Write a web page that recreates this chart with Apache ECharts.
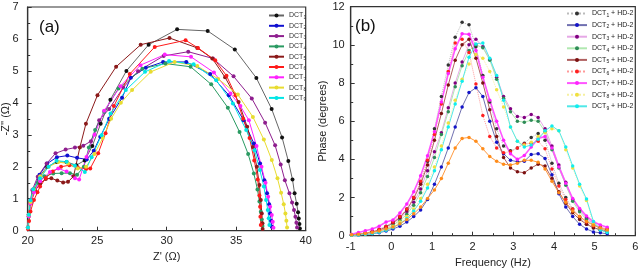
<!DOCTYPE html>
<html><head><meta charset="utf-8">
<script src="https://cdn.jsdelivr.net/npm/echarts@6/dist/echarts.min.js"></script>
<style>html,body{margin:0;padding:0;background:#fff}#c{width:640px;height:268px}</style>
</head><body><div id="c"></div>
<script>
// ---------- Panel (a): Nyquist data [Z', -Z''] ----------
const dct1 = [[20.02,0.1],[20.08,0.5],[20.2,0.9],[20.45,1.3],[20.85,1.7],[21.4,2.0],[22.1,2.15],[22.8,2.15],[23.5,2.05],[24.1,2.2],[24.65,2.65],[25.25,3.35],[25.95,4.1],[27.1,5.0],[28.7,5.82],[30.75,6.3],[32.95,6.25],[34.9,5.67],[36.45,4.78],[37.55,3.81],[38.3,2.92],[38.75,2.18],[39.05,1.6],[39.2,1.17],[39.35,0.84],[39.45,0.58],[39.5,0.38],[39.55,0.21],[39.58,0.07]];
const dct2 = [[20.02,0.1],[20.08,0.5],[20.2,0.9],[20.45,1.3],[20.85,1.75],[21.4,2.1],[22.1,2.3],[22.85,2.35],[23.55,2.28],[24.25,2.23],[24.75,2.5],[25.22,2.94],[25.86,3.5],[26.79,4.16],[27.42,4.79],[28.5,5.1],[29.74,5.28],[31.41,5.28],[33.13,4.9],[34.47,4.24],[35.53,3.46],[36.27,2.73],[36.72,2.1],[37.03,1.58],[37.22,1.17],[37.37,0.83],[37.44,0.54],[37.51,0.31],[37.56,0.12]];
const dct3 = [[20.02,0.1],[20.08,0.5],[20.2,0.95],[20.33,1.27],[20.72,1.69],[21.36,2.1],[22.0,2.42],[22.73,2.54],[23.4,2.6],[24.0,2.66],[24.55,2.8],[25.14,3.46],[25.86,3.81],[26.87,4.48],[27.94,4.99],[29.78,5.47],[31.55,5.6],[33.33,5.39],[34.81,4.83],[36.12,4.14],[37.08,3.38],[37.8,2.67],[38.2,2.07],[38.5,1.58],[38.83,1.17],[39.02,0.88],[39.16,0.65],[39.26,0.44],[39.33,0.25],[39.38,0.1]];
const dct4 = [[20.02,0.1],[20.08,0.5],[20.2,0.9],[20.4,1.2],[20.75,1.5],[21.2,1.7],[21.84,1.79],[22.44,1.8],[23.04,1.8],[23.55,1.75],[24.04,2.0],[24.4,2.6],[24.85,3.15],[25.5,3.72],[26.53,4.45],[28.25,5.07],[29.9,5.23],[31.72,5.13],[33.2,4.58],[34.4,3.85],[35.24,3.09],[35.86,2.4],[36.27,1.79],[36.53,1.29],[36.67,0.91],[36.77,0.59],[36.84,0.35],[36.89,0.15]];
const dct5 = [[20.02,0.1],[20.08,0.45],[20.2,0.85],[20.53,1.25],[20.9,1.48],[21.3,1.62],[21.7,1.64],[22.13,1.57],[22.55,1.51],[22.9,1.53],[23.3,1.7],[23.75,2.6],[24.19,3.35],[25.02,4.24],[26.36,5.13],[28.13,5.82],[30.2,6.03],[32.2,5.72],[33.28,5.39],[34.2,4.8],[35.17,4.03],[35.79,3.25],[36.2,2.62],[36.48,2.0],[36.67,1.43],[36.77,0.96],[36.84,0.54],[36.89,0.23],[36.9,0.05]];
const dct6 = [[20.02,0.05],[20.1,0.3],[20.2,0.6],[20.45,0.96],[20.7,1.2],[20.89,1.38],[21.3,1.65],[21.8,1.85],[22.4,2.0],[23.0,2.05],[23.6,1.98],[24.2,1.93],[24.5,1.95],[25.07,2.42],[25.6,3.05],[26.2,3.9],[27.34,4.9],[29.14,5.75],[31.36,5.96],[32.25,5.72],[33.49,5.33],[34.3,4.85],[34.95,4.24],[35.5,3.5],[35.96,2.9],[36.3,2.2],[36.55,1.6],[36.67,1.1],[36.72,0.75],[36.74,0.44],[36.77,0.18]];
const dct7 = [[20.02,0.1],[20.08,0.45],[20.2,0.85],[20.45,1.2],[20.9,1.55],[21.6,1.84],[22.2,1.95],[22.8,1.85],[23.4,1.64],[23.7,1.6],[24.23,2.31],[24.8,3.0],[25.5,3.75],[26.67,4.52],[28.11,5.18],[29.86,5.51],[31.75,5.44],[33.4,4.95],[34.59,4.29],[35.3,3.9],[35.91,3.46],[36.46,2.65],[36.82,2.0],[37.11,1.5],[37.3,1.06],[37.44,0.75],[37.56,0.49],[37.63,0.28],[37.68,0.09]];
const dct8 = [[20.02,0.1],[20.08,0.5],[20.2,0.9],[20.45,1.3],[20.9,1.7],[21.5,2.0],[22.2,2.15],[22.9,2.1],[23.6,1.95],[24.2,2.0],[24.8,2.4],[25.4,2.9],[26.0,3.5],[26.7,4.0],[27.51,4.4],[28.85,4.97],[30.57,5.28],[32.2,5.15],[33.7,4.75],[35.12,4.26],[36.2,3.56],[36.99,2.85],[37.56,2.21],[37.97,1.64],[38.23,1.19],[38.42,0.83],[38.54,0.54],[38.61,0.31],[38.66,0.1]];
const dct9 = [[20.02,0.1],[20.08,0.5],[20.2,0.95],[20.4,1.3],[20.89,1.64],[21.5,2.0],[22.08,2.19],[22.8,2.16],[23.4,2.03],[24.11,1.84],[24.6,2.3],[25.31,2.99],[25.96,3.67],[27.06,4.4],[28.44,4.97],[30.17,5.31],[31.94,5.21],[33.56,4.71],[34.76,3.98],[35.72,3.15],[36.32,2.52],[36.7,1.9],[36.99,1.38],[37.15,0.96],[37.27,0.65],[37.34,0.39],[37.39,0.18]];

// ---------- Panel (b): Bode phase data ----------
const logFreq = [-0.98,-0.81,-0.64,-0.47,-0.30,-0.13,0.04,0.21,0.38,0.55,0.72,0.89,1.06,1.23,1.40,1.57,1.74,1.91,2.08,2.25,2.42,2.59,2.76,2.93,3.10,3.27,3.44,3.61,3.78,3.95,4.12,4.29,4.46,4.63,4.80,4.97,5.14,5.31];
const ph1 = [0.04,0.08,0.14,0.22,0.34,0.5,0.72,1.0,1.4,2.0,2.8,3.9,5.6,7.3,8.95,10.4,11.18,11.05,9.9,8.4,7.0,5.6,4.7,4.45,4.6,4.85,5.15,5.35,5.0,3.8,2.75,2.0,1.4,0.95,0.6,0.4,0.28,0.2];
const ph2 = [0.02,0.04,0.07,0.1,0.16,0.24,0.35,0.5,0.72,1.0,1.35,1.9,2.7,3.6,4.6,5.7,6.75,7.5,7.75,7.3,6.0,4.9,4.3,3.95,3.88,3.9,4.25,4.3,4.05,3.2,2.2,1.5,1.0,0.6,0.35,0.2,0.15,0.1];
const ph3 = [0.03,0.07,0.12,0.2,0.3,0.45,0.65,0.9,1.25,1.75,2.45,3.4,4.4,5.4,6.7,8.0,9.1,10.0,10.3,9.9,9.25,8.3,7.3,6.65,6.25,6.2,6.35,6.2,5.6,4.7,3.7,2.8,1.9,1.35,0.92,0.62,0.45,0.34];
const ph4 = [0.03,0.06,0.1,0.16,0.25,0.38,0.56,0.8,1.12,1.6,2.25,3.1,4.1,5.3,6.5,7.8,8.9,9.7,10.0,9.85,9.2,8.2,7.2,6.5,6.0,5.95,6.05,6.0,5.45,4.5,3.55,2.65,1.8,1.25,0.85,0.55,0.4,0.3];
const ph5 = [0.04,0.08,0.13,0.2,0.3,0.45,0.68,0.95,1.35,1.95,2.7,3.7,5.0,6.4,7.9,9.2,10.0,10.3,9.3,8.0,6.6,5.2,4.1,3.55,3.35,3.3,3.55,3.75,3.65,3.0,2.3,1.7,1.2,0.85,0.6,0.42,0.32,0.25];
const ph6 = [0.05,0.09,0.14,0.21,0.32,0.48,0.72,1.0,1.4,2.0,2.85,3.95,5.3,6.9,8.6,10.1,10.3,9.6,7.95,6.3,5.2,4.6,4.35,4.4,4.6,4.8,4.85,4.95,4.55,3.5,2.6,1.9,1.4,1.0,0.72,0.52,0.42,0.36];
const ph7 = [0.08,0.17,0.26,0.35,0.5,0.72,0.82,1.19,1.66,2.3,3.14,4.19,5.45,7.0,8.5,9.8,10.58,10.55,9.7,8.3,7.1,6.0,5.0,4.3,4.0,4.2,4.65,5.1,5.2,4.6,3.6,2.75,1.95,1.43,1.03,0.73,0.56,0.44];
const ph8 = [0.03,0.05,0.09,0.14,0.22,0.33,0.5,0.72,1.0,1.4,1.95,2.7,3.6,4.7,5.9,7.1,8.2,9.0,9.5,9.3,8.6,7.65,6.75,5.7,4.95,4.75,4.9,5.2,5.4,5.6,5.5,4.5,3.55,2.6,1.85,0.6,0.35,0.25];
const ph9 = [0.02,0.04,0.07,0.11,0.18,0.28,0.42,0.62,0.9,1.3,1.8,2.5,3.4,4.5,5.7,6.9,8.1,9.35,10.05,10.1,9.3,8.4,7.1,5.7,4.95,4.65,4.75,5.05,5.5,5.75,5.5,4.65,3.65,2.7,1.92,0.75,0.3,0.17];
const phBlank = [0.05,0.08,0.12,0.17,0.25,0.35,0.45,0.62,0.85,1.15,1.5,1.95,2.4,3.0,3.8,4.6,5.1,5.15,4.95,4.55,4.15,3.9,3.75,3.7,3.8,3.95,3.95,3.85,3.5,2.85,2.25,1.75,1.3,1.0,0.75,0.55,0.4,0.3];

const namesA = ['DCT1','DCT2','DCT3','DCT4','DCT5','DCT6','DCT7','DCT8','DCT9'];
const namesB = ['DCT1 + HD-2','DCT2 + HD-2','DCT3 + HD-2','DCT4 + HD-2','DCT5 + HD-2','DCT6 + HD-2','DCT7 + HD-2','DCT8 + HD-2','DCT9 + HD-2'];
const dataA = [dct1,dct2,dct3,dct4,dct5,dct6,dct7,dct8,dct9];
const dataB = [ph1,ph2,ph3,ph4,ph5,ph6,ph7,ph8,ph9];

const colA = ['#111111','#1010d0','#8e1e8e','#2a9a62','#8b1a1a','#ff1a1a','#ff22ff','#e8dc30','#00e6e6'];
const lineA = ['#666666','#1010d0','#8e1e8e','#2a9a62','#8b1a1a','#ff1a1a','#ff22ff','#e8dc30','#00e6e6'];
const colB = ['#333333','#1414c8','#800080','#2e8b57','#7b1010','#ff2020','#ff22ff','#f0e040','#10eeee'];
const lineB = ['#bbbbbb','#7070b0','#e6a8e6','#b0e8b0','#b06060','#ff9a9a','#ff55ff','#f6f0a0','#50e8e8'];
const typeB = ['dotted','solid','solid','solid','solid','dotted','solid','dotted','solid'];
const widthB = [1,1,1,1,1,1,1.6,1,1];

const FONT = 'Liberation Sans, Arial, sans-serif';
const chart = echarts.init(document.getElementById('c'));

const series = [];
dataA.forEach((d,i)=>series.push({
  name: namesA[i], type:'line', xAxisIndex:0, yAxisIndex:0, data:d,
  symbol:'circle', symbolSize:4, showSymbol:true,
  itemStyle:{color:colA[i]}, lineStyle:{color:lineA[i], width:1},
  z: 2, animation:false
}));
dataB.forEach((d,i)=>series.push({
  name: namesB[i], type:'line', xAxisIndex:1, yAxisIndex:1,
  data: logFreq.map((f,k)=>[f,d[k]]),
  symbol:'circle', symbolSize:3.5,
  itemStyle:{color:colB[i]}, lineStyle:{color:lineB[i], width:widthB[i], type:typeB[i]},
  animation:false
}));
series.push({
  name:'HD-2', type:'line', xAxisIndex:1, yAxisIndex:1,
  data: logFreq.map((f,k)=>[f,phBlank[k]]),
  symbol:'circle', symbolSize:3.5,
  itemStyle:{color:'#ff8c1a'}, lineStyle:{color:'#ff9a40', width:1}, animation:false
});

function axisCommon(){
  return {
    axisLine:{show:true, onZero:false, lineStyle:{color:'#333', width:1.2}},
    axisTick:{show:true, inside:true, length:4, lineStyle:{color:'#333'}},
    minorTick:{show:true, splitNumber:2, length:2.5, lineStyle:{color:'#333'}},
    splitLine:{show:false},
    axisLabel:{color:'#222', fontFamily:FONT, fontSize:11},
    nameTextStyle:{color:'#222', fontFamily:FONT, fontSize:11}
  };
}
function mk(base, extra){ return Object.assign(base, extra); }

const richA = {t:{fontSize:7, fontFamily:FONT, color:'#333'}, s:{fontSize:5, fontFamily:FONT, color:'#333', padding:[4,0,0,0]}};
const richB = {t:{fontSize:7, fontFamily:FONT, color:'#222'}, s:{fontSize:5, fontFamily:FONT, color:'#222', padding:[4,0,0,0]}};

const option = {
  animation:false,
  backgroundColor:'#fff',
  grid:[
    {left:27.7, top:7, width:278, height:223.7, outerBoundsMode:'none', containLabel:false, show:true, borderColor:'#333', borderWidth:1.2, backgroundColor:'transparent'},
    {left:350.7, top:6.7, width:284.6, height:229, outerBoundsMode:'none', containLabel:false, show:true, borderColor:'#333', borderWidth:1.2, backgroundColor:'transparent'}
  ],
  xAxis:[
    mk(axisCommon(), {type:'value', gridIndex:0, min:20, max:40, interval:5, name:"Z' (Ω)", nameLocation:'middle', nameGap:19, axisLabel:{color:'#222', fontFamily:FONT, fontSize:11, margin:5}}),
    mk(axisCommon(), {type:'value', gridIndex:1, min:-1, max:6, interval:1, name:'Frequency (Hz)', nameLocation:'middle', nameGap:18, axisLabel:{color:'#222', fontFamily:FONT, fontSize:11, margin:6}})
  ],
  yAxis:[
    mk(axisCommon(), {type:'value', gridIndex:0, min:0, max:7, interval:1, name:"-Z'' (Ω)", nameLocation:'middle', nameGap:16, nameMoveOverlap:false, axisLabel:{color:'#222', fontFamily:FONT, fontSize:11, margin:9}}),
    mk(axisCommon(), {type:'value', gridIndex:1, min:0, max:12, interval:2, name:'Phase (degrees)', nameLocation:'middle', nameGap:19, axisLabel:{color:'#222', fontFamily:FONT, fontSize:11, margin:6}})
  ],
  legend:[
    {data:namesA, orient:'vertical', left:268, top:12, padding:0, itemWidth:15, itemHeight:5, itemGap:2.3,
     formatter:n=>'{t|DCT}{s|'+n.slice(3)+'}', textStyle:{rich:richA, fontSize:7}},
    {data:namesB, orient:'vertical', left:566, top:10, padding:0, itemWidth:20, itemHeight:5, itemGap:3.6,
     formatter:n=>'{t|DCT}{s|'+n.charAt(3)+'}{t| + HD-2}', textStyle:{rich:richB, fontSize:7}}
  ],
  graphic:[
    {type:'text', left:39, top:19, style:{text:'(a)', fontSize:17, fontFamily:FONT, fill:'#111'}},
    {type:'text', left:355, top:18, style:{text:'(b)', fontSize:17, fontFamily:FONT, fill:'#111'}}
  ],
  series: series
};
chart.setOption(option);
</script></body></html>
